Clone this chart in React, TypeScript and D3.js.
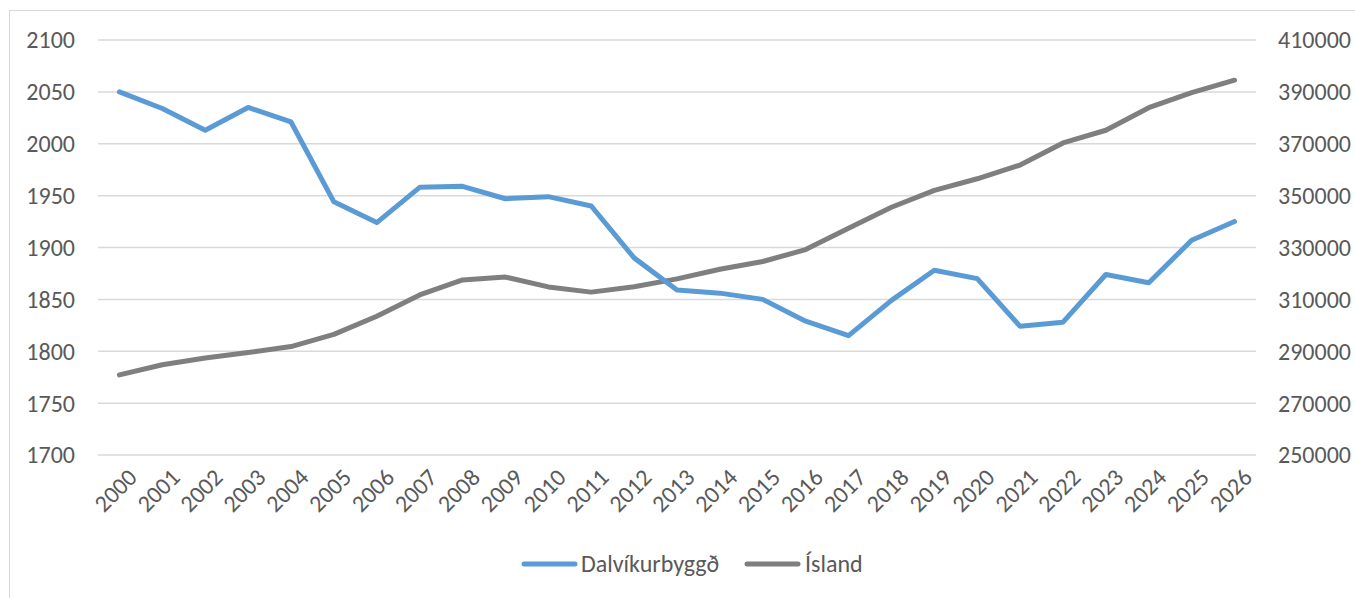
import React from "react";
import * as d3 from "d3";

const years = ["2000","2001","2002","2003","2004","2005","2006","2007","2008","2009","2010","2011","2012","2013","2014","2015","2016","2017","2018","2019","2020","2021","2022","2023","2024","2025","2026"];
const dalvik = [2050,2034,2013,2035,2021,1944,1924,1958,1959,1947,1949,1940,1890,1859,1856,1850,1829,1815,1849,1878,1870,1824,1828,1874,1866,1907,1925];
const island = [280900,284800,287400,289500,291800,296500,303500,311700,317500,318600,314800,312800,314900,317900,321600,324600,329200,337400,345500,352000,356500,361800,370300,375200,383900,389700,394500];
const leftTicks = [1700,1750,1800,1850,1900,1950,2000,2050,2100];
const rightTicks = [250000,270000,290000,310000,330000,350000,370000,390000,410000];
const seriesNames = ["Dalvíkurbyggð", "Ísland"];
const colors = ["#5B9BD5", "#7F7F7F"];

const W = 1355, H = 598;
const FONT = "Carlito, 'Liberation Sans', Arial, sans-serif";

export default function App() {
  const x = d3.scaleBand<string>().domain(years).range([98, 1256]);
  const yL = d3.scaleLinear().domain([1700, 2100]).range([455, 40]);
  const yR = d3.scaleLinear().domain([250000, 410000]).range([455, 40]);
  const cx = (y: string) => (x(y) as number) + x.bandwidth() / 2;
  const lineL = d3.line<number>().x((_, i) => cx(years[i])).y(d => yL(d));
  const lineR = d3.line<number>().x((_, i) => cx(years[i])).y(d => yR(d));

  return (
    <svg width={W} height={H} style={{ position: "absolute", left: 0, top: 0, background: "#fff" }} fontFamily={FONT}>
      <rect x={9.5} y={10.5} width={W} height={H} fill="#fff" stroke="#d9d9d9" strokeWidth={1} />
      {leftTicks.map(t => (
        <line key={"g" + t} x1={98} x2={1256} y1={yL(t)} y2={yL(t)} stroke="#d9d9d9" strokeWidth={1.5} />
      ))}
      {leftTicks.map(t => (
        <text key={"l" + t} x={75} y={yL(t)} dy="0.35em" textAnchor="end" fontSize={24} fill="#595959">{t}</text>
      ))}
      {rightTicks.map(t => (
        <text key={"r" + t} x={1278} y={yR(t)} dy="0.35em" textAnchor="start" fontSize={24} fill="#595959">{t}</text>
      ))}
      {years.map(yv => (
        <text key={"x" + yv} transform={`translate(${cx(yv) + 19},${479}) rotate(-45)`} textAnchor="end" fontSize={24} fill="#595959">{yv}</text>
      ))}
      <path d={lineR(island) || ""} fill="none" stroke={colors[1]} strokeWidth={5} strokeLinejoin="round" strokeLinecap="round" />
      <path d={lineL(dalvik) || ""} fill="none" stroke={colors[0]} strokeWidth={5} strokeLinejoin="round" strokeLinecap="round" />
      <g>
        <line x1={524} x2={575} y1={564} y2={564} stroke={colors[0]} strokeWidth={5} strokeLinecap="round" />
        <text x={581} y={564} dy="0.35em" fontSize={24} fill="#595959">{seriesNames[0]}</text>
        <line x1={747} x2={798} y1={564} y2={564} stroke={colors[1]} strokeWidth={5} strokeLinecap="round" />
        <text x={805} y={564} dy="0.35em" fontSize={24} fill="#595959">{seriesNames[1]}</text>
      </g>
    </svg>
  );
}
